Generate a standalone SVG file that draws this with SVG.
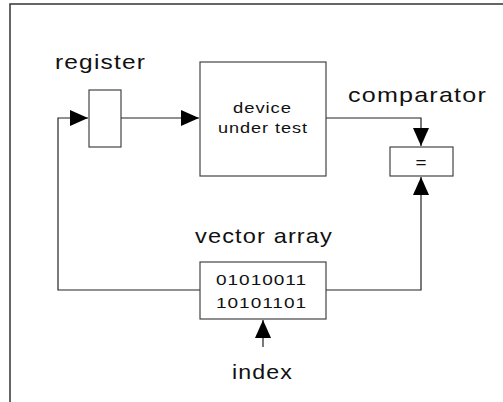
<svg xmlns="http://www.w3.org/2000/svg" width="503" height="402" viewBox="0 0 503 402">
  <style>
    .box { fill: #fff; stroke: #444; stroke-width: 1.2; }
    .wire { fill: none; stroke: #222; stroke-width: 1.2; }
    .frame { fill: none; stroke: #333; stroke-width: 1.5; }
    .label { font-family: "Liberation Sans", Arial, sans-serif; font-size: 21px; letter-spacing: 1px; fill: #111; }
    .inner { font-family: "Liberation Sans", Arial, sans-serif; font-size: 15.5px; letter-spacing: 0.8px; fill: #111; }
  </style>
  <defs>
    <marker id="arrow" markerWidth="18" markerHeight="16" refX="18" refY="8" orient="auto" markerUnits="userSpaceOnUse">
      <path d="M0,0 L18,8 L0,16 Z" fill="#000"/>
    </marker>
  </defs>

  <rect width="503" height="402" fill="#fff"/>
  <!-- outer frame -->
  <path class="frame" d="M10,402 V4 H503"/>

  <!-- connectors -->
  <g id="connectors">
    <path class="wire" d="M200,290 H58 V118 H88" marker-end="url(#arrow)"/>
    <path class="wire" d="M121,118 H199" marker-end="url(#arrow)"/>
    <path class="wire" d="M326,118 H421 V146" marker-end="url(#arrow)"/>
    <path class="wire" d="M326,290 H421 V177" marker-end="url(#arrow)"/>
    <path class="wire" d="M263,347 V320" marker-end="url(#arrow)"/>
  </g>

  <g id="register">
    <rect class="box" x="89" y="90" width="32" height="57"/>
    <text class="label" x="55" y="69" textLength="91" lengthAdjust="spacingAndGlyphs">register</text>
  </g>

  <g id="device-under-test">
    <rect class="box" x="200" y="62" width="126" height="114"/>
    <text class="inner" x="233" y="113" textLength="59" lengthAdjust="spacingAndGlyphs">device</text>
    <text class="inner" x="218" y="133" textLength="90" lengthAdjust="spacingAndGlyphs">under test</text>
  </g>

  <g id="comparator">
    <rect class="box" x="390" y="147" width="63" height="29"/>
    <text class="inner" x="421.5" y="168" text-anchor="middle" font-size="20" textLength="12" lengthAdjust="spacingAndGlyphs">=</text>
    <text class="label" x="348" y="102" textLength="139" lengthAdjust="spacingAndGlyphs">comparator</text>
  </g>

  <g id="vector-array">
    <rect class="box" x="200" y="262" width="126" height="57"/>
    <text class="inner" x="216" y="285" textLength="91" lengthAdjust="spacingAndGlyphs">01010011</text>
    <text class="inner" x="216" y="308" textLength="91" lengthAdjust="spacingAndGlyphs">10101101</text>
    <text class="label" x="195" y="243" textLength="138" lengthAdjust="spacingAndGlyphs">vector array</text>
  </g>

  <g id="index">
    <text class="label" x="232" y="379" textLength="61" lengthAdjust="spacingAndGlyphs">index</text>
  </g>
</svg>
